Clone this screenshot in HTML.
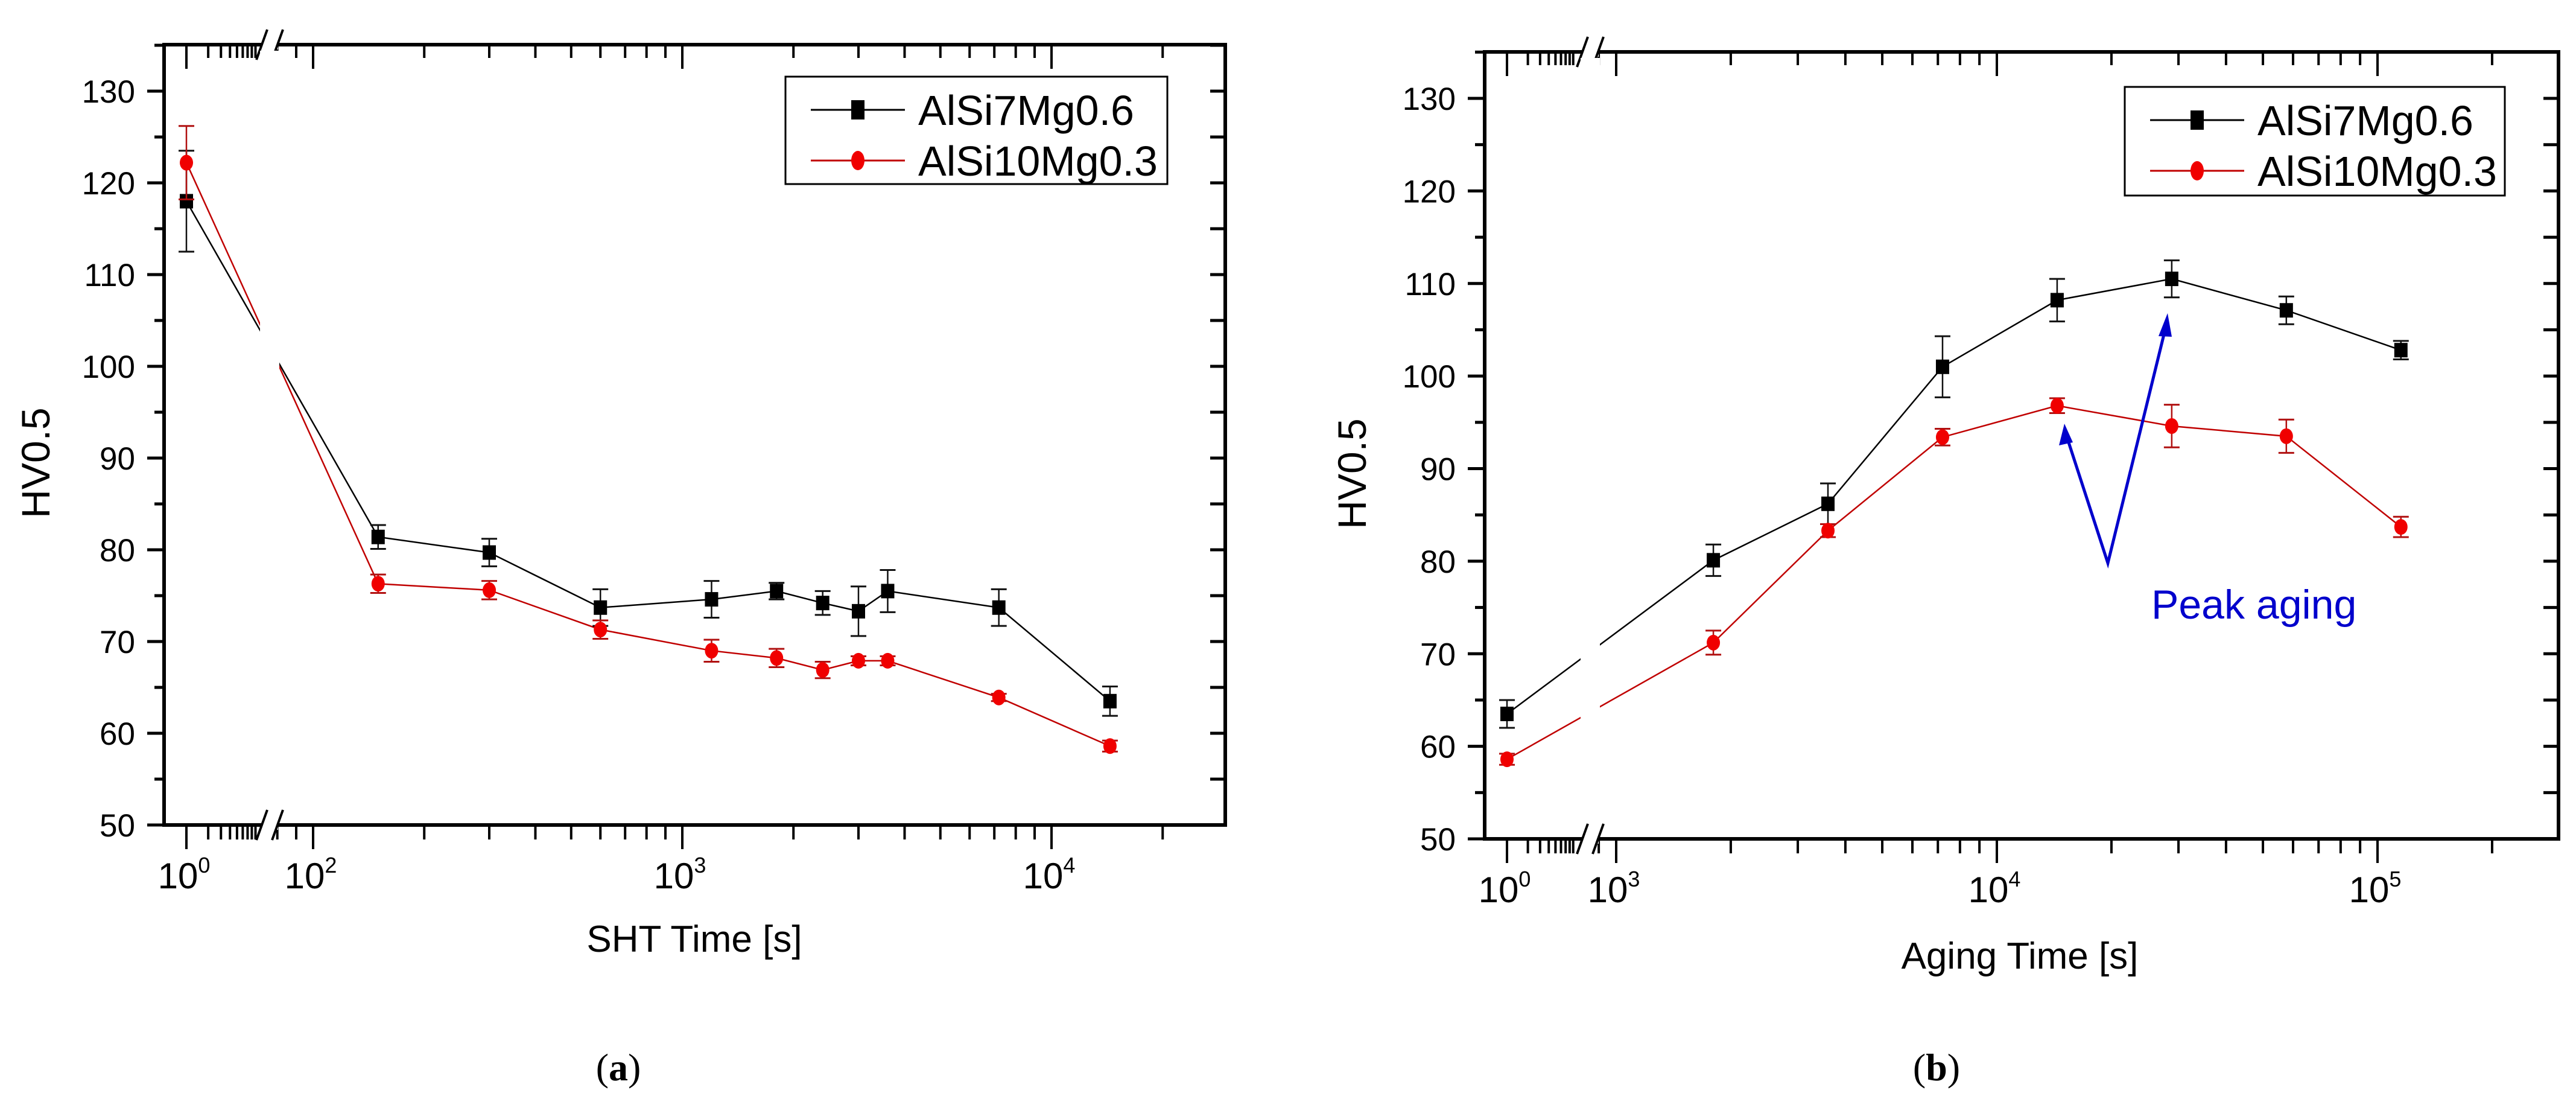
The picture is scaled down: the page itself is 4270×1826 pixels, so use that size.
<!DOCTYPE html>
<html><head><meta charset="utf-8"><style>
html,body{margin:0;padding:0;background:#fff;}
svg{display:block;font-family:"Liberation Sans",Arial,sans-serif;}
</style></head><body>
<svg id="fig" width="4270" height="1826" viewBox="0 0 4270 1826" xmlns="http://www.w3.org/2000/svg">
<rect width="4270" height="1826" fill="#fff"/>
</svg>
<script>
// ---- Chart (a) data: SHT ----
const shtTimes = [1, 150, 300, 600, 1200, 1800, 2400, 3000, 3600, 7200, 14400];
const shtBlack = [118, 81.4, 79.7, 73.7, 74.6, 75.5, 74.2, 73.3, 75.5, 73.7, 63.5];
const shtBlackErr = [5.5, 1.3, 1.5, 2, 2, 0.9, 1.3, 2.7, 2.3, 2, 1.6];
const shtRed = [122.2, 76.3, 75.6, 71.3, 69.0, 68.2, 66.9, 67.9, 67.9, 63.9, 58.6];
const shtRedErr = [4, 1, 1, 1, 1.2, 1, 0.9, 0.5, 0.5, 0.4, 0.6];
// ---- Chart (b) data: Aging ----
const ageTimes = [1, 1800, 3600, 7200, 14400, 28800, 57600, 115200];
const ageBlack = [63.5, 80.1, 86.2, 101, 108.2, 110.5, 107.1, 102.8];
const ageBlackErr = [1.5, 1.7, 2.2, 3.3, 2.3, 2, 1.5, 1];
const ageRed = [58.6, 71.2, 83.3, 93.4, 96.8, 94.6, 93.5, 83.7];
const ageRedErr = [0.6, 1.3, 0.7, 0.9, 0.8, 2.3, 1.8, 1.1];
const yTicks = [50, 60, 70, 80, 90, 100, 110, 120, 130];
const seriesNames = ["AlSi7Mg0.6", "AlSi10Mg0.3"];

const NS = "http://www.w3.org/2000/svg";
const svg = document.getElementById('fig');
function el(tag, attrs, parent, text){
  const e = document.createElementNS(NS, tag);
  for (const k in attrs) e.setAttribute(k, attrs[k]);
  if (text !== undefined) e.textContent = text;
  (parent || svg).appendChild(e);
  return e;
}

function makeChart(cfg){
  const g = el('g', {});
  
  
  const X = t => t < 10 ? cfg.x0 + cfg.k1 * Math.log10(t) : cfg.xd + cfg.dec * (Math.log10(t) - cfg.d0);
  const Y = v => cfg.yTop + (130 - v) * (cfg.yBot - cfg.yTop) / 80;
  const L = cfg.left, R = cfg.right, T = cfg.top, B = cfg.yBot;

  // y ticks
  for (let v = 50; v <= 135; v += 5) {
    const y = Y(v); if (y < T) continue;
    const major = v % 10 === 0;
    const t = el('line', {x1: L - (major ? 28 : 16), x2: L, y1: y, y2: y, stroke: '#000', 'stroke-width': 5}, g);
    
    
    el('line', {x1: R - 25, x2: R, y1: y, y2: y, stroke: '#000', 'stroke-width': 5}, g);
  }
  yTicks.forEach(v => {
    const lab = el('text', {x: L - 48, y: Y(v) + 19, 'font-size': 53, 'text-anchor': 'end'}, g, String(v));
    
    
  });
  // x ticks: first segment minor ticks
  const xt = [];
  for (let m = 1; m <= 9; m++) xt.push({t: m, major: m === 1});
  for (let d = cfg.d0 - 1; d <= cfg.dmax; d++) {
    for (let m = 1; m <= 9; m++) {
      const t = m * Math.pow(10, d);
      const x = cfg.xd + cfg.dec * (Math.log10(t) - cfg.d0);
      if (x < cfg.segStart || x > R - 3) continue;
      xt.push({t: t, major: m === 1});
    }
  }
  xt.forEach(o => {
    const x = X(o.t);
    const tk = el('line', {x1: x, x2: x, y1: B, y2: B + (o.major ? 40 : 24), stroke: '#000', 'stroke-width': 4}, g);
    
    
    el('line', {x1: x, x2: x, y1: T, y2: T + (o.major ? 40 : 22), stroke: '#000', 'stroke-width': 4}, g);
  });
  cfg.xLabels.forEach(e => {
    const x = X(Math.pow(10, e));
    const tx = el('text', {x: x - 4, y: cfg.xLabY, 'font-size': 60, 'text-anchor': 'middle'}, g);
    
    
    el('tspan', {}, tx, '10');
    el('tspan', {dy: -26, 'font-size': 36}, tx, String(e));
  });
  // axes box
  const box = el('rect', {x: L, y: T, width: R - L, height: B - T, fill: 'none', stroke: '#000', 'stroke-width': 6}, g);
  
  
  // axis breaks
  [T, B].forEach(yy => {
    el('rect', {x: cfg.brk - 14, y: yy - 8, width: 28, height: 16, fill: '#fff'}, g);
    el('line', {x1: cfg.brk - 22, y1: yy + 25, x2: cfg.brk - 4, y2: yy - 25, stroke: '#000', 'stroke-width': 4}, g);
    el('line', {x1: cfg.brk + 4, y1: yy + 25, x2: cfg.brk + 22, y2: yy - 25, stroke: '#000', 'stroke-width': 4}, g);
  });
  // series
  const series = [
    {t: cfg.times, v: cfg.black, e: cfg.blackErr, col: '#000', sq: true, n: 'series-alsi7mg06'},
    {t: cfg.times, v: cfg.red, e: cfg.redErr, col: '#e00000', sq: false, n: 'series-alsi10mg03'}
  ];
  series.forEach(s => {
    const sg = el('g', {}, g);
    
    
    const pts = s.t.map((t, i) => X(t) + ',' + Y(s.v[i])).join(' ');
    const pl = el('polyline', {points: pts, fill: 'none', stroke: s.sq ? '#000' : '#c00000', 'stroke-width': 2.5}, sg);
    
    
  });
  // white gap on line at break
  el('rect', {x: cfg.brk - 16, y: T + 10, width: 32, height: B - T - 40, fill: '#fff'}, g);
  series.forEach(s => {
    const sg = el('g', {}, g);
    
    
    s.t.forEach((t, i) => {
      const x = X(t), y = Y(s.v[i]), y1 = Y(s.v[i] + s.e[i]), y2 = Y(s.v[i] - s.e[i]);
      const ec = s.sq ? '#111' : '#b01010';
      el('line', {x1: x, x2: x, y1: y1, y2: y2, stroke: ec, 'stroke-width': 2.5}, sg);
      el('line', {x1: x - 13, x2: x + 13, y1: y1, y2: y1, stroke: ec, 'stroke-width': 3}, sg);
      el('line', {x1: x - 13, x2: x + 13, y1: y2, y2: y2, stroke: ec, 'stroke-width': 3}, sg);
      let m;
      if (s.sq) m = el('rect', {x: x - 11, y: y - 12, width: 22, height: 24, fill: '#000'}, sg);
      else m = el('ellipse', {cx: x, cy: y, rx: 11, ry: 13, fill: '#f00000'}, sg);
      
      
    });
  });
  // legend
  const lg = el('g', {}, g);
  
  
  const lb = cfg.leg;
  el('rect', {x: lb.x, y: lb.y, width: lb.w, height: lb.h, fill: '#fff', stroke: '#000', 'stroke-width': 3}, lg);
  seriesNames.forEach((nm, i) => {
    const ry = lb.y + 55 + i * 84;
    const eg = el('g', {}, lg);
    
    
    el('line', {x1: lb.x + 42, x2: lb.x + 198, y1: ry, y2: ry, stroke: i ? '#c00000' : '#000', 'stroke-width': 3}, eg);
    if (i === 0) el('rect', {x: lb.x + 109, y: ry - 16, width: 22, height: 32, fill: '#000'}, eg);
    else el('ellipse', {cx: lb.x + 120, cy: ry, rx: 11, ry: 16, fill: '#f00000'}, eg);
    el('text', {x: lb.x + 220, y: ry + 25, 'font-size': 70}, eg, nm);
  });
  // titles
  const yl = el('text', {x: cfg.ylx, y: cfg.yly, 'font-size': 66, 'text-anchor': 'middle', transform: `rotate(-90 ${cfg.ylx} ${cfg.yly})`}, g, 'HV0.5');
  
  
  const xl = el('text', {x: cfg.xlx, y: cfg.xly, 'font-size': 62, 'text-anchor': 'middle'}, g, cfg.xTitle);
  
  
  const cap = el('text', {x: cfg.capx, y: 1790, 'font-size': 64, 'text-anchor': 'middle', 'font-family': '"Liberation Serif", serif'}, g);
  
  
  el('tspan', {}, cap, '(');
  el('tspan', {'font-weight': 'bold'}, cap, cfg.cap);
  el('tspan', {}, cap, ')');
  return {X, Y, g};
}

makeChart({name: 'chart-sht', x0: 309, k1: 120, xd: 519, dec: 612, d0: 2, dmax: 4, segStart: 455,
  left: 272, right: 2031, top: 74, yTop: 151, yBot: 1367, brk: 447,
  times: shtTimes, black: shtBlack, blackErr: shtBlackErr, red: shtRed, redErr: shtRedErr,
  xLabels: [0, 2, 3, 4], xLabY: 1472,
  leg: {x: 1302, y: 127, w: 633, h: 178},
  ylx: 82, yly: 767, xTitle: 'SHT Time [s]', xlx: 1151, xly: 1577, cap: 'a', capx: 1025});

const B = makeChart({name: 'chart-aging', x0: 2498, k1: 115, xd: 2679, dec: 631, d0: 3, dmax: 5, segStart: 2645,
  left: 2461, right: 4241, top: 86, yTop: 163, yBot: 1390, brk: 2636,
  times: ageTimes, black: ageBlack, blackErr: ageBlackErr, red: ageRed, redErr: ageRedErr,
  xLabels: [0, 3, 4, 5], xLabY: 1495,
  leg: {x: 3522, y: 144, w: 630, h: 180},
  ylx: 2264, yly: 785, xTitle: 'Aging Time [s]', xlx: 3348, xly: 1605, cap: 'b', capx: 3210});

// peak aging annotation
const ann = el('g', {});


el('polyline', {points: '3428,730 3494,933 3588,550', fill: 'none', stroke: '#0000cc', 'stroke-width': 5}, ann);
el('polygon', {points: '3422,702 3413,738 3436,733', fill: '#0000cc'}, ann);
el('polygon', {points: '3593,519 3578,557 3600,558', fill: '#0000cc'}, ann);
el('text', {x: 3566, y: 1025, 'font-size': 68, fill: '#0000cc'}, ann, 'Peak aging');
</script>
</body></html>
